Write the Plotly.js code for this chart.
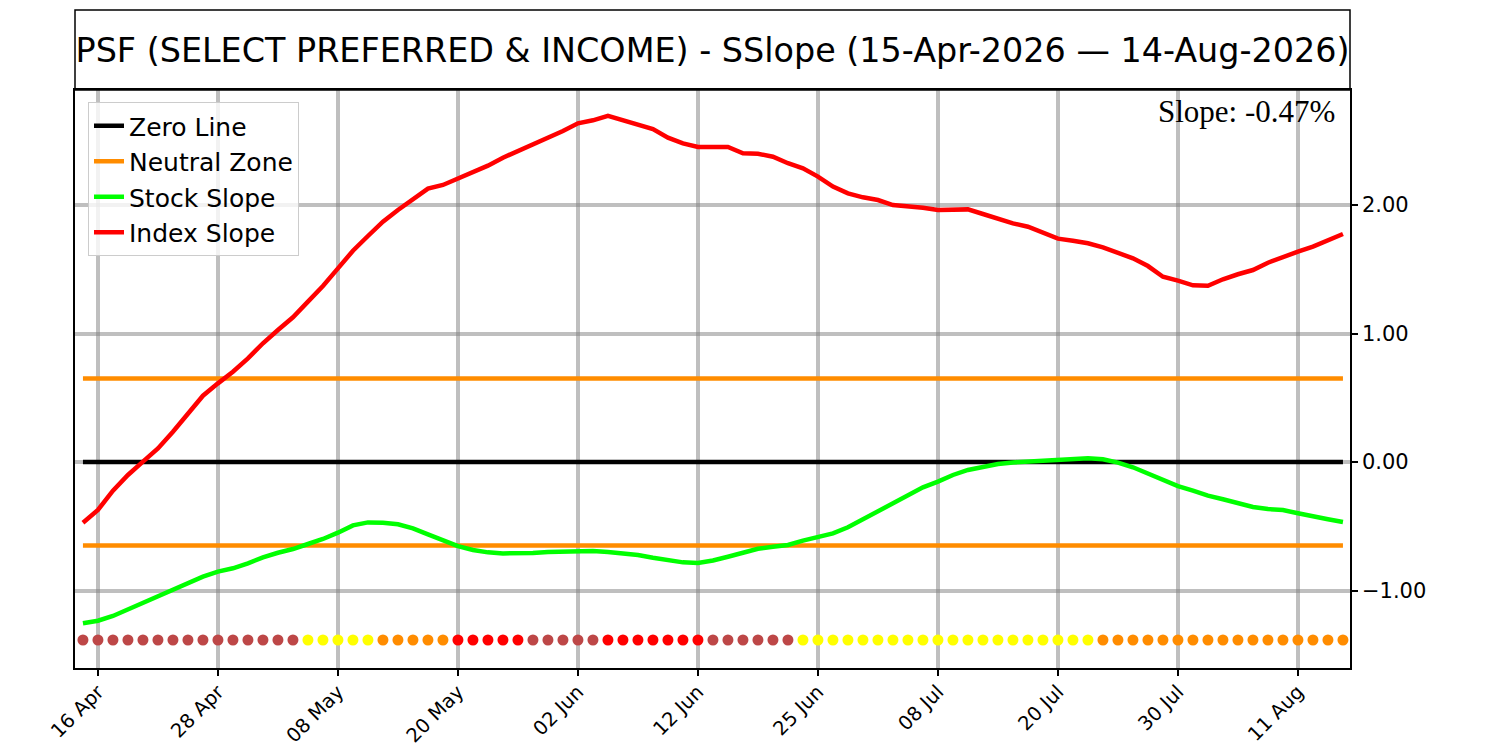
<!DOCTYPE html>
<html>
<head>
<meta charset="utf-8">
<script src="https://cdn.plot.ly/plotly-3.0.1.min.js"></script>
<style>
  html, body { margin: 0; padding: 0; background: #ffffff; }
  #chart { width: 1500px; height: 750px; }
</style>
</head>
<body>
<div id="chart"></div>
<script>
// trading days 15-Apr-2026 .. 14-Aug-2026 (weekends + market holidays skipped)
const startDay = "2026-04-15";
const endDay = "2026-08-14";
const holidays = ["2026-05-25", "2026-06-19", "2026-07-03"];

const tickDays = ["2026-04-16", "2026-04-28", "2026-05-08", "2026-05-20", "2026-06-02", "2026-06-12",
  "2026-06-25", "2026-07-08", "2026-07-20", "2026-07-30", "2026-08-11"];
const tickLabels = ["16 Apr", "28 Apr", "08 May", "20 May", "02 Jun", "12 Jun",
  "25 Jun", "08 Jul", "20 Jul", "30 Jul", "11 Aug"];

const stockSlope = [
  -1.255, -1.235, -1.198, -1.146, -1.092, -1.043, -0.996, -0.944, -0.892, -0.853,
  -0.827, -0.788, -0.742, -0.706, -0.677, -0.638, -0.599, -0.550, -0.493, -0.470,
  -0.472, -0.484, -0.516, -0.563, -0.612, -0.654, -0.685, -0.703, -0.711, -0.713,
  -0.708, -0.700, -0.695, -0.690, -0.693, -0.700, -0.711, -0.724, -0.745, -0.765,
  -0.781, -0.786, -0.766, -0.737, -0.706, -0.675, -0.659, -0.646, -0.612, -0.586,
  -0.555, -0.508, -0.444, -0.379, -0.317, -0.257, -0.197, -0.153, -0.101, -0.062,
  -0.036, -0.016, -0.003, 0.005, 0.010, 0.013, 0.021, 0.029, 0.021, -0.005,
  -0.041, -0.088, -0.140, -0.187, -0.223, -0.262, -0.290, -0.322, -0.350, -0.366,
  -0.374, -0.399, -0.426, -0.446, -0.467,
];

const indexSlope = [
  -0.472, -0.373, -0.223, -0.101, 0.003, 0.106, 0.236, 0.379, 0.516, 0.612,
  0.703, 0.807, 0.924, 1.027, 1.126, 1.248, 1.370, 1.507, 1.644, 1.759,
  1.870, 1.961, 2.044, 2.127, 2.156, 2.208, 2.257, 2.306, 2.368, 2.420,
  2.467, 2.519, 2.576, 2.636, 2.659, 2.693, 2.656, 2.623, 2.591, 2.524,
  2.480, 2.451, 2.454, 2.451, 2.402, 2.399, 2.376, 2.325, 2.286, 2.221,
  2.143, 2.091, 2.060, 2.039, 2.000, 1.992, 1.979, 1.961, 1.966, 1.966,
  1.930, 1.889, 1.857, 1.831, 1.782, 1.738, 1.722, 1.702, 1.671, 1.632,
  1.585, 1.525, 1.442, 1.411, 1.375, 1.372, 1.422, 1.461, 1.494, 1.551,
  1.598, 1.637, 1.676, 1.728, 1.774,
];

// daily state dots: B = weak (brown), Y = yellow, O = orange, R = red
const dayState = [
  "B", "B", "B", "B", "B", "B", "B", "B", "B", "B", "B", "B", "B", "B", "B",
  "Y", "Y", "Y", "Y", "Y", "O", "O", "O", "O", "O", "R", "R", "R", "R", "R",
  "B", "B", "B", "B", "B", "R", "R", "R", "R", "R", "R", "R",
  "B", "B", "B", "B", "B", "B",
  "Y", "Y", "Y", "Y", "Y", "Y", "Y", "Y", "Y", "Y", "Y", "Y", "Y", "Y", "Y", "Y", "Y", "Y", "Y", "Y",
  "O", "O", "O", "O", "O", "O", "O", "O", "O", "O", "O", "O", "O", "O", "O", "O", "O",
];

const neutralBand = 0.65;
const dotLevel = -1.385;

const stateColor = { B: "#bd4747", Y: "#ffff00", O: "#ff8c00", R: "#ff0000" };

function tradingDays(from, to, skip) {
  const out = [];
  const d = new Date(from + "T00:00:00Z");
  const last = new Date(to + "T00:00:00Z");
  while (d <= last) {
    const iso = d.toISOString().slice(0, 10);
    const wd = d.getUTCDay();
    if (wd !== 0 && wd !== 6 && !skip.includes(iso)) out.push(iso);
    d.setUTCDate(d.getUTCDate() + 1);
  }
  return out;
}

const days = tradingDays(startDay, endDay, holidays);
const n = days.length;
const idx = days.map((_, i) => i); // plotted on a trading-day index, like the source
const tickIdx = tickDays.map((t) => days.indexOf(t));

const lineW = 4.5;

const zeroTrace = {
  type: "scatter", mode: "lines",
  x: [0, n - 1], y: [0, 0],
  line: { color: "#000000", width: lineW },
  name: "Zero Line",
  hoverinfo: "skip",
};

const neutralUp = {
  type: "scatter", mode: "lines",
  x: [0, n - 1], y: [neutralBand, neutralBand],
  line: { color: "#ff8c00", width: lineW },
  name: "Neutral Zone",
  legendgroup: "neutral",
  hoverinfo: "skip",
};

const neutralDown = {
  type: "scatter", mode: "lines",
  x: [0, n - 1], y: [-neutralBand, -neutralBand],
  line: { color: "#ff8c00", width: lineW },
  name: "Neutral Zone",
  legendgroup: "neutral",
  showlegend: false,
  hoverinfo: "skip",
};

const stockTrace = {
  type: "scatter", mode: "lines",
  x: idx, y: stockSlope, text: days,
  line: { color: "#00ff00", width: lineW },
  name: "Stock Slope",
  hovertemplate: "%{text}<br>%{y:.2f}<extra>Stock</extra>",
};

const indexTrace = {
  type: "scatter", mode: "lines",
  x: idx, y: indexSlope, text: days,
  line: { color: "#ff0000", width: lineW },
  name: "Index Slope",
  hovertemplate: "%{text}<br>%{y:.2f}<extra>Index</extra>",
};

const dotTrace = {
  type: "scatter", mode: "markers",
  x: idx, y: idx.map(() => dotLevel), text: days,
  marker: { color: dayState.map((s) => stateColor[s]), size: 11, line: { width: 0 } },
  showlegend: false,
  hovertemplate: "%{text}<extra></extra>",
};

const titleTop = 1 + 80 / 578;

const layout = {
  width: 1500,
  height: 750,
  paper_bgcolor: "#ffffff",
  plot_bgcolor: "#ffffff",
  font: { family: "DejaVu Sans, sans-serif", size: 18, color: "#000000" },
  margin: { l: 75, r: 150, t: 90, b: 82 },
  showlegend: true,
  title: {
    text: "PSF (SELECT PREFERRED &amp; INCOME) - SSlope (15-Apr-2026 \u2014 14-Aug-2026)",
    font: { family: "DejaVu Sans, sans-serif", size: 33.4, color: "#000000" },
    x: (75 + 1275 / 2) / 1500, xref: "container", xanchor: "center",
    y: 1 - 50 / 750, yref: "container", yanchor: "middle",
  },
  xaxis: {
    range: [-0.53, n - 1 + 0.47],
    tickvals: tickIdx,
    ticktext: tickLabels,
    tickangle: -45,
    tickfont: { family: "DejaVu Sans, sans-serif", size: 19.5 },
    ticklabelstandoff: -3,
    ticks: "outside", ticklen: 6, tickwidth: 1.5, tickcolor: "#000000",
    showgrid: true, gridcolor: "rgba(128,128,128,0.5)", gridwidth: 4,
    showline: true, linecolor: "#000000", linewidth: 1.5, mirror: true,
    zeroline: false,
  },
  yaxis: {
    side: "right",
    range: [-1.603, 2.895],
    tickvals: [-1, 0, 1, 2],
    tickformat: ".2f",
    tickfont: { family: "DejaVu Sans, sans-serif", size: 21 },
    ticks: "outside", ticklen: 6, tickwidth: 1.5, tickcolor: "#000000",
    showgrid: true, gridcolor: "rgba(128,128,128,0.5)", gridwidth: 4,
    showline: true, linecolor: "#000000", linewidth: 1.5, mirror: true,
    zeroline: false,
  },
  legend: {
    x: 13 / 1275, xanchor: "left",
    y: 1 - 12 / 578, yanchor: "top",
    bgcolor: "rgba(255,255,255,0.8)",
    bordercolor: "#cccccc", borderwidth: 1,
    font: { family: "DejaVu Sans, sans-serif", size: 25, color: "#000000" },
    itemwidth: 30,
    tracegroupgap: 0,
  },
  shapes: [{
    type: "rect", xref: "paper", yref: "paper",
    x0: 0, x1: 1, y0: 1, y1: titleTop,
    line: { color: "#000000", width: 1.5 },
    fillcolor: "rgba(0,0,0,0)",
  }],
  annotations: [{
    text: "Slope: " + stockSlope[n - 1].toFixed(2) + "%",
    xref: "paper", yref: "paper",
    x: (1337 - 75) / 1275, xanchor: "right",
    y: 1 - 2 / 578, yanchor: "top",
    showarrow: false,
    font: { family: "Liberation Serif, Times New Roman, serif", size: 31, color: "#000000" },
  }],
};

Plotly.newPlot("chart", [zeroTrace, neutralUp, neutralDown, stockTrace, indexTrace, dotTrace], layout, {
  displayModeBar: false,
  responsive: false,
});
</script>
</body>
</html>
